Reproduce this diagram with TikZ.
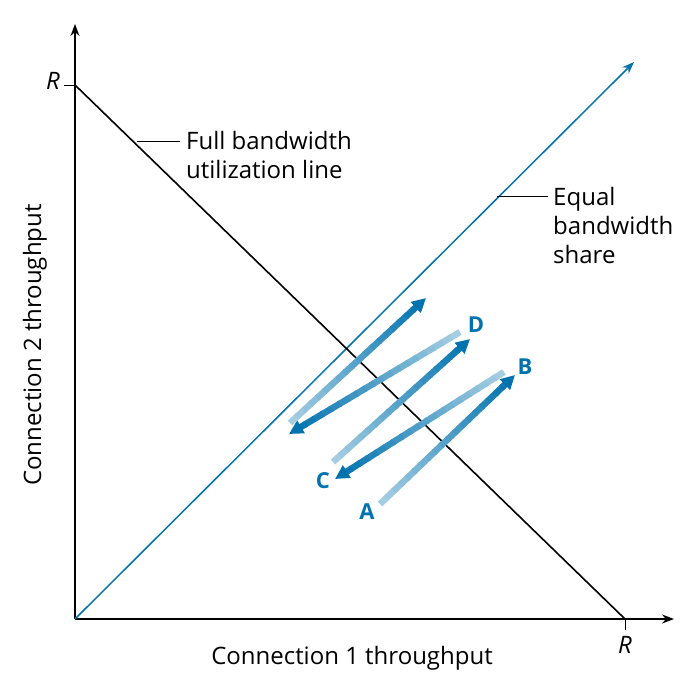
\documentclass[tikz,border=0pt]{standalone}
\usepackage{fontspec}
\setmainfont{Open Sans}
\usetikzlibrary{calc,arrows.meta}
\definecolor{shareblue}{RGB}{0,114,174}
\tikzset{%
  axis line/.style={line width=1.5pt, -{Stealth[length=12pt,width=9pt]}},
  leader/.style={line width=0.7pt},
  lab/.style={font=\fontsize{24}{29}\selectfont, inner sep=0pt},
  step lab/.style={font=\fontsize{22}{26}\selectfont\bfseries, text=shareblue, inner sep=0pt},
}
\newcommand{\gradstep}[2]{%
  \foreach \i in {0,...,18}
    \pgfmathsetmacro{\p}{35+65*\i/19}
    \draw [line width=6.5pt, color=shareblue!\p!white]
      ($(#1)!{\i/20}!(#2)$) -- ($(#1)!{(\i+1.2)/20}!(#2)$);
  \draw [line width=6.5pt, color=shareblue, -{Triangle[length=14pt,width=14pt]}]
    ($(#1)!{19/20}!(#2)$) -- (#2);
}
\begin{document}
\begin{tikzpicture}[x=1pt, y=-1pt]
  \useasboundingbox (0,0) rectangle (700,683);

  % Axes
  \coordinate (origin) at (75,619);
  \coordinate (xend) at (674,619);
  \coordinate (yend) at (75,24);
  \draw [axis line] (origin) -- (xend);
  \draw [axis line] (origin) -- (yend);
  \coordinate (ytick) at (75,85);
  \coordinate (xtick) at (625,619);
  \draw [line width=1pt] (ytick) -- ++(-11,0);
  \draw [line width=1pt] (xtick) -- ++(0,11);
  \node [lab, font=\fontsize{24}{29}\selectfont\itshape] (ry) at (53,81) {R};
  \node [lab, font=\fontsize{24}{29}\selectfont\itshape] (rx) at (625,645) {R};
  \node [lab] (xlabel) at (352,658) {Connection 1 throughput};
  \node [lab, rotate=90] (ylabel) at (35,345) {Connection 2 throughput};

  % Lines
  \coordinate (share) at (634,62);
  \draw [line width=1.5pt, shareblue, -{Stealth[length=12pt,width=9pt]}] (origin) -- (share);
  \draw [line width=1.6pt] (ytick) -- (xtick);

  % Leader labels
  \coordinate (full-a) at (137,141);
  \coordinate (full-b) at (180,141);
  \draw [leader] (full-a) -- (full-b);
  \node [lab, anchor=west, align=left] (full) at (186,155) {Full bandwidth\\utilization line};
  \coordinate (eq-a) at (497,196);
  \coordinate (eq-b) at (548,196);
  \draw [leader] (eq-a) -- (eq-b);
  \node [lab, anchor=west, align=left] (equal) at (553,225) {Equal\\bandwidth\\share};

  % Throughput steps
  \coordinate (a0) at (380,504); \coordinate (a1) at (515,375);
  \coordinate (b0) at (504,372); \coordinate (b1) at (335,479);
  \coordinate (c0) at (333,462); \coordinate (c1) at (470,339);
  \coordinate (d0) at (460,332); \coordinate (d1) at (289,434);
  \coordinate (e0) at (290,423); \coordinate (e1) at (426,298);
  \gradstep{a0}{a1}
  \gradstep{b0}{b1}
  \gradstep{c0}{c1}
  \gradstep{d0}{d1}
  \gradstep{e0}{e1}
  \node [step lab] (A) at (367,512) {A};
  \node [step lab] (B) at (525,367) {B};
  \node [step lab] (C) at (323,481) {C};
  \node [step lab] (D) at (476,325) {D};
\end{tikzpicture}
\end{document}
